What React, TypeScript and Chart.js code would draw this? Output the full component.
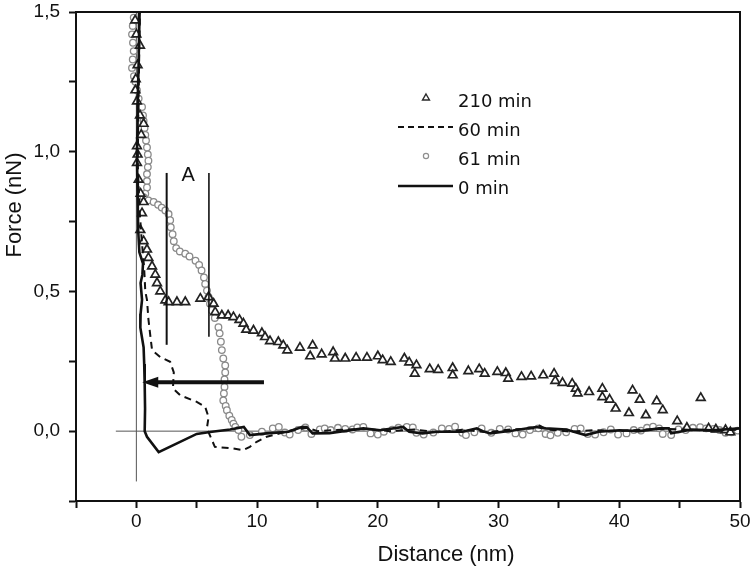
import React, { useEffect, useRef } from 'react';
import { Chart, registerables } from 'chart.js';
Chart.register(...registerables);

// ---------- axis ----------
const xMin = -5;
const xMax = 50;
const yMin = -0.25;
const yMax = 1.5;

// ---------- 210 min (triangles) ----------
const t210X = [-0.1, 0.0, 0.3, 0.1, -0.05, -0.08, 0.05, 0.3, 0.6, 0.4,
  0.05, 0.1, 0.05, 0.19, 0.35, 0.6, 0.47, 0.33, 0.6, 0.88,
  1.0, 1.3, 1.57, 1.71, 1.98, 2.4, 2.67, 3.36, 4.05, 5.3,
  5.98, 6.4, 6.53, 7.08, 7.6, 8.04, 8.54, 8.87, 9.1, 9.7,
  10.4, 10.66, 11.07, 11.76, 12.17, 12.5, 13.55, 14.4, 14.6, 15.35,
  16.3, 16.45, 17.3, 18.2, 19.1, 20.0, 20.4, 21.07, 22.2, 22.6,
  23.2, 23.06, 24.3, 25.0, 26.2, 26.2, 27.5, 28.4, 28.85, 29.9,
  30.6, 30.8, 31.9, 32.7, 33.7, 34.6, 34.7, 35.3, 36.1, 36.4,
  36.55, 37.5, 38.6, 38.6, 39.2, 39.7, 40.8, 41.1, 41.7, 42.2,
  43.1, 43.6, 44.8, 45.6, 46.75, 47.4, 48.0, 48.8, 49.2];
const t210Y = [1.47, 1.42, 1.38, 1.31, 1.26, 1.22, 1.18, 1.13, 1.10, 1.06,
  1.02, 0.99, 0.96, 0.90, 0.85, 0.82, 0.78, 0.72, 0.68, 0.65,
  0.62, 0.59, 0.56, 0.53, 0.50, 0.468, 0.462, 0.462, 0.462, 0.474,
  0.48, 0.456, 0.426, 0.414, 0.414, 0.408, 0.398, 0.385, 0.363, 0.36,
  0.351, 0.337, 0.322, 0.319, 0.307, 0.289, 0.299, 0.268, 0.307, 0.275,
  0.283, 0.26, 0.26, 0.263, 0.263, 0.268, 0.254, 0.248, 0.26, 0.246,
  0.236, 0.206, 0.222, 0.219, 0.226, 0.2, 0.215, 0.222, 0.206, 0.212,
  0.208, 0.188, 0.194, 0.196, 0.2, 0.206, 0.18, 0.173, 0.17, 0.152,
  0.135, 0.14, 0.152, 0.122, 0.113, 0.081, 0.065, 0.146, 0.113, 0.057,
  0.107, 0.075, 0.036, 0.012, 0.119, 0.01, 0.006, 0.004, -0.004];

// ---------- 60 min (dashed) ----------
const d60X = [0.3, 0.22, 0.15, 0.12, 0.25, 0.45, 0.65, 0.74, 0.88, 1.0,
  1.16, 1.3, 1.98, 2.8, 3.1, 3.03, 3.64, 5.0, 5.7, 5.98,
  5.84, 6.26, 6.5, 8.0, 8.85, 9.4, 9.97, 10.8, 11.9, 13.0,
  14.2, 15.0, 17.0, 19.0, 21.0, 23.0, 25.0, 27.0, 29.0, 31.0,
  33.0, 33.4, 34.0, 36.0, 38.0, 40.0, 42.0, 44.0, 46.0, 48.0, 50.0];
const d60Y = [1.52, 1.3, 1.1, 0.95, 0.8, 0.68, 0.58, 0.5, 0.47, 0.40,
  0.34, 0.29, 0.265, 0.248, 0.21, 0.153, 0.128, 0.105, 0.087, 0.05,
  0.01, -0.032, -0.056, -0.062, -0.068, -0.056, -0.038, -0.02, -0.008, 0.005,
  0.012, 0.0, 0.005, 0.008, 0.0, 0.006, -0.004, 0.005, -0.004, 0.006,
  0.01, 0.02, 0.006, -0.002, 0.004, 0.0, 0.006, 0.008, 0.004, 0.002, 0.006];

// ---------- 61 min (circles) ----------
const c61X = [-0.22, -0.3, -0.36, -0.28, -0.22, -0.3, -0.36, -0.2, -0.08, 0.05,
  0.19, 0.47, 0.55, 0.6, 0.68, 0.74, 0.8, 0.88, 0.95, 1.0,
  0.95, 0.88, 0.88, 0.88, 0.74, 0.6, 1.0, 1.43, 1.8, 2.1,
  2.4, 2.67, 2.8, 2.85, 3.0, 3.1, 3.3, 3.6, 4.05, 4.4,
  4.9, 5.2, 5.4, 5.6, 5.7, 5.85, 5.98, 6.1, 6.26, 6.5,
  6.8, 6.9, 7.0, 7.08, 7.2, 7.36, 7.36, 7.3, 7.3, 7.25,
  7.2, 7.4, 7.5, 7.7, 7.9, 8.04, 8.2, 8.45, 8.7, 9.4,
  10.4, 11.3, 11.8, 12.3, 12.7, 13.4, 14.0, 14.5, 15.2, 15.6,
  16.1, 16.7, 17.3, 17.9, 18.3, 18.8, 19.4, 20.0, 20.5, 21.2,
  21.7, 22.4, 22.9, 23.2, 23.8, 24.6, 25.3, 25.9, 26.4, 27.0,
  27.3, 28.0, 28.6, 29.4, 30.1, 30.8, 31.4, 32.0, 32.6, 33.3,
  33.9, 34.3, 34.9, 35.6, 36.3, 36.8, 37.4, 38.0, 38.7, 39.3,
  39.9, 40.6, 41.2, 41.8, 42.3, 42.8, 43.3, 43.6, 44.3, 44.9,
  45.5, 46.1, 46.7, 47.2, 47.8, 48.3, 48.8, 49.3, 49.8];
const c61Y = [1.48, 1.45, 1.42, 1.39, 1.36, 1.33, 1.30, 1.27, 1.25, 1.22,
  1.19, 1.16, 1.13, 1.11, 1.085, 1.06, 1.04, 1.015, 0.99, 0.968,
  0.945, 0.92, 0.895, 0.872, 0.85, 0.837, 0.826, 0.82, 0.81, 0.80,
  0.79, 0.777, 0.755, 0.73, 0.705, 0.68, 0.655, 0.643, 0.635, 0.625,
  0.61, 0.595, 0.575, 0.55, 0.527, 0.503, 0.48, 0.456, 0.432, 0.405,
  0.372, 0.35, 0.32, 0.29, 0.26, 0.235, 0.21, 0.185, 0.158, 0.135,
  0.11, 0.09, 0.075, 0.055, 0.04, 0.027, 0.015, 0.004, -0.02, -0.014,
  -0.002, 0.01, 0.015, -0.005, -0.012, 0.004, 0.013, -0.01, 0.006, 0.01,
  0.004, 0.012, 0.008, 0.006, 0.013, 0.015, -0.008, -0.012, -0.002, 0.005,
  0.012, 0.015, 0.013, -0.006, -0.012, -0.005, 0.01, 0.008, 0.016, -0.006,
  -0.014, -0.004, 0.01, -0.006, 0.008, 0.006, -0.008, -0.012, 0.004, 0.01,
  -0.01, -0.015, -0.006, -0.004, 0.008, 0.01, -0.01, -0.012, -0.004, 0.006,
  -0.012, -0.008, 0.004, 0.002, 0.012, 0.016, 0.01, -0.01, -0.014, 0.006,
  0.004, 0.012, 0.014, 0.01, 0.008, 0.004, -0.006, -0.004, 0.002];

// ---------- 0 min (solid) ----------
const s0X = [0.28, 0.22, 0.18, 0.12, 0.1, 0.05, 0.08, 0.12, 0.15, 0.25,
  0.55, 0.5, 0.35, 0.47, 0.35, 0.33, 0.6, 0.65, 0.69, 0.72,
  0.69, 0.88, 1.85, 5.0, 6.1, 7.77, 8.9, 9.4, 10.8, 12.6,
  13.7, 14.1, 14.6, 16.0, 18.8, 20.2, 22.1, 22.6, 23.7, 24.9,
  27.0, 28.2, 28.7, 29.3, 31.2, 33.1, 33.9, 35.6, 37.2, 38.3,
  40.0, 41.7, 43.3, 44.1, 44.3, 46.0, 47.7, 50.0];
const s0Y = [1.52, 1.4, 1.3, 1.2, 1.1, 1.0, 0.9, 0.8, 0.72, 0.64,
  0.6, 0.56, 0.53, 0.47, 0.42, 0.37, 0.30, 0.24, 0.17, 0.08,
  0.0, -0.02, -0.075, -0.01, -0.003, 0.006, 0.015, -0.014, -0.008, -0.002,
  0.015, 0.015, -0.008, -0.007, 0.01, 0.003, 0.015, -0.002, -0.008, -0.002,
  -0.002, 0.01, 0.0, -0.008, 0.002, 0.015, 0.01, 0.006, -0.014, -0.002,
  0.003, 0.0, 0.01, 0.01, -0.008, 0.006, 0.003, 0.01];

// ---------- annotations (data coordinates) ----------
const zeroLineFromX = -1.7;
const zeroVLineToY = -0.18;
const markAX = [2.51, 6.01];
const markATopY = 0.924;
const markABottomY = [0.309, 0.338];
const markALabel = 'A';
const markALabelX = 4.3;
const markALabelY = 0.895;
const arrowFromX = 10.57;
const arrowToX = 0.49;
const arrowY = 0.175;

const legendLabels = ['210 min', '60 min', '61 min', '0 min'];

const pts = (xs: number[], ys: number[]) => xs.map((x, i) => ({ x, y: ys[i] }));

const SANS = '"Liberation Sans", Arial, sans-serif';
const INK = '#111';

function drawTri(ctx: CanvasRenderingContext2D, cx: number, cy: number, r: number) {
  ctx.beginPath();
  for (let k = 0; k < 3; k++) {
    const a = (k * 2 * Math.PI) / 3;
    const px = cx + Math.sin(a) * r;
    const py = cy - Math.cos(a) * r;
    if (k === 0) ctx.moveTo(px, py);
    else ctx.lineTo(px, py);
  }
  ctx.closePath();
}

const overlay = {
  id: 'overlay',
  beforeDatasetsDraw(chart: any) {
    const { ctx, scales: { x, y } } = chart;
    ctx.save();
    ctx.strokeStyle = '#555';
    ctx.lineWidth = 1;
    ctx.beginPath();
    ctx.moveTo(x.getPixelForValue(zeroLineFromX), y.getPixelForValue(0));
    ctx.lineTo(x.getPixelForValue(xMax), y.getPixelForValue(0));
    ctx.moveTo(x.getPixelForValue(0), y.getPixelForValue(yMax));
    ctx.lineTo(x.getPixelForValue(0), y.getPixelForValue(zeroVLineToY));
    ctx.stroke();
    ctx.restore();
  },
  afterDatasetsDraw(chart: any) {
    const { ctx, scales: { x, y } } = chart;
    ctx.save();
    ctx.strokeStyle = INK;
    markAX.forEach((mx, i) => {
      ctx.lineWidth = i === 0 ? 2 : 1.6;
      ctx.beginPath();
      ctx.moveTo(x.getPixelForValue(mx), y.getPixelForValue(markATopY));
      ctx.lineTo(x.getPixelForValue(mx), y.getPixelForValue(markABottomY[i]));
      ctx.stroke();
    });
    ctx.fillStyle = INK;
    ctx.font = `20px ${SANS}`;
    ctx.textAlign = 'center';
    ctx.textBaseline = 'alphabetic';
    ctx.fillText(markALabel, x.getPixelForValue(markALabelX), y.getPixelForValue(markALabelY));
    // arrow
    const ay = y.getPixelForValue(arrowY);
    const ax0 = x.getPixelForValue(arrowFromX);
    const ax1 = x.getPixelForValue(arrowToX);
    ctx.lineWidth = 4;
    ctx.beginPath();
    ctx.moveTo(ax0, ay);
    ctx.lineTo(ax1 + 12, ay);
    ctx.stroke();
    ctx.beginPath();
    ctx.moveTo(ax1, ay);
    ctx.lineTo(ax1 + 16, ay - 5.5);
    ctx.lineTo(ax1 + 16, ay + 5.5);
    ctx.closePath();
    ctx.fill();
    ctx.restore();
  },
  afterDraw(chart: any) {
    const { ctx, chartArea: a } = chart;
    ctx.save();
    // frame (top & right)
    ctx.strokeStyle = INK;
    ctx.lineWidth = 2;
    ctx.beginPath();
    ctx.moveTo(a.left - 1, a.top);
    ctx.lineTo(a.right, a.top);
    ctx.lineTo(a.right, a.bottom + 1);
    ctx.stroke();
    // axis titles
    ctx.fillStyle = INK;
    ctx.font = `22px ${SANS}`;
    ctx.textAlign = 'center';
    ctx.textBaseline = 'middle';
    ctx.fillText('Distance (nm)', 446, 555);
    ctx.save();
    ctx.translate(15, 205);
    ctx.rotate(-Math.PI / 2);
    ctx.fillText('Force (nN)', 0, 0);
    ctx.restore();
    // legend
    const lx = 458;
    const base = [106.5, 135.5, 164.5, 193.5];
    ctx.font = '18px "DejaVu Sans", Verdana, sans-serif';
    ctx.textAlign = 'left';
    ctx.textBaseline = 'alphabetic';
    legendLabels.forEach((t, i) => ctx.fillText(t, lx, base[i]));
    // symbols
    ctx.fillStyle = '#fff';
    ctx.strokeStyle = '#2a2a2a';
    ctx.lineWidth = 1.4;
    drawTri(ctx, 426, 98, 4);
    ctx.fill();
    ctx.stroke();
    ctx.strokeStyle = INK;
    ctx.lineWidth = 2;
    ctx.setLineDash([6, 4]);
    ctx.beginPath();
    ctx.moveTo(398, 127);
    ctx.lineTo(453, 127);
    ctx.stroke();
    ctx.setLineDash([]);
    ctx.strokeStyle = '#8f8f8f';
    ctx.lineWidth = 1.2;
    ctx.beginPath();
    ctx.arc(426, 156, 2.6, 0, Math.PI * 2);
    ctx.fill();
    ctx.stroke();
    ctx.strokeStyle = INK;
    ctx.lineWidth = 2.5;
    ctx.beginPath();
    ctx.moveTo(398, 186);
    ctx.lineTo(453, 186);
    ctx.stroke();
    ctx.restore();
  },
};

export default function App() {
  const ref = useRef<HTMLCanvasElement>(null);
  useEffect(() => {
    const chart = new Chart(ref.current as HTMLCanvasElement, {
      type: 'scatter',
      data: {
        datasets: [
          {
            label: '0 min',
            data: pts(s0X, s0Y),
            showLine: true,
            borderColor: INK,
            borderWidth: 2.6,
            pointRadius: 0,
            order: 1,
          },
          {
            label: '60 min',
            data: pts(d60X, d60Y),
            showLine: true,
            borderColor: INK,
            borderWidth: 2,
            borderDash: [7, 5],
            pointRadius: 0,
            order: 2,
          },
          {
            label: '210 min',
            data: pts(t210X, t210Y),
            showLine: false,
            pointStyle: 'triangle',
            pointRadius: 5,
            pointBorderColor: '#222',
            pointBackgroundColor: '#fff',
            pointBorderWidth: 1.7,
            order: 3,
          },
          {
            label: '61 min',
            data: pts(c61X, c61Y),
            showLine: false,
            pointStyle: 'circle',
            pointRadius: 3.3,
            pointBorderColor: '#8a8a8a',
            pointBackgroundColor: '#fff',
            pointBorderWidth: 1.3,
            order: 4,
          },
        ] as any,
      },
      options: {
        responsive: false,
        animation: false,
        events: [],
        layout: { padding: { top: 12, right: 14, left: 0, bottom: 0 } },
        plugins: { legend: { display: false }, tooltip: { enabled: false } },
        scales: {
          x: {
            type: 'linear',
            min: xMin,
            max: xMax,
            afterFit: (s: any) => {
              s.height = 78;
              s.paddingLeft = 0;
              s.paddingRight = 0;
            },
            ticks: {
              stepSize: 5,
              autoSkip: false,
              maxRotation: 0,
              padding: 2,
              color: INK,
              font: { family: SANS, size: 19 },
              callback: (v: any) => (Math.round(v) % 10 === 0 ? String(Math.round(v)) : ''),
            },
            grid: {
              display: true,
              drawOnChartArea: false,
              drawTicks: true,
              tickLength: 7,
              tickColor: INK,
              tickWidth: 2,
            },
            border: { display: true, color: INK, width: 2 },
          },
          y: {
            type: 'linear',
            min: yMin,
            max: yMax,
            afterFit: (s: any) => {
              s.width = 76;
              s.paddingTop = 0;
              s.paddingBottom = 0;
            },
            ticks: {
              stepSize: 0.25,
              autoSkip: false,
              padding: 9,
              color: INK,
              font: { family: SANS, size: 19 },
              callback: (v: any) => {
                const r = Math.round(v * 2);
                return Math.abs(v * 2 - r) < 1e-6 ? (r / 2).toFixed(1).replace('.', ',') : '';
              },
            },
            grid: {
              display: true,
              drawOnChartArea: false,
              drawTicks: true,
              tickLength: 7,
              tickColor: INK,
              tickWidth: 2,
            },
            border: { display: true, color: INK, width: 2 },
          },
        },
      } as any,
      plugins: [overlay],
    });
    return () => chart.destroy();
  }, []);
  return (
    <div style={{ position: 'absolute', left: 0, top: 0, width: 754, height: 579, background: '#fff' }}>
      <canvas ref={ref} width={754} height={579} style={{ display: 'block' }} />
    </div>
  );
}
